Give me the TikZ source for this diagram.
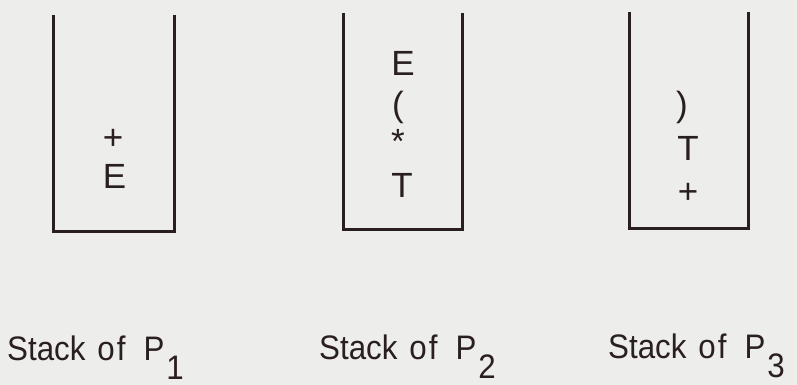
\documentclass[tikz,border=0pt]{standalone}
\usepackage{fontspec}
\setmainfont{Liberation Sans}
\newfontfamily\lblfont[FakeStretch=0.92]{Liberation Sans}
\definecolor{bg}{HTML}{EDEDEB}
\definecolor{ink}{HTML}{2A1F1F}
\newcommand{\stacklabel}[1]{Stack\hspace{12pt}o\hspace{2pt}f\hspace{18pt}P\hspace{2pt}\raisebox{-19pt}{#1}}
\begin{document}
\begin{tikzpicture}[x=1pt,y=-1pt,
  wall/.style={draw=ink,line width=3pt,line join=miter},
  sym/.style={text=ink,inner sep=0pt,font=\fontsize{35}{40}\selectfont},
  lbl/.style={text=ink,inner sep=0pt,anchor=base west,font=\lblfont\fontsize{34}{40}\selectfont}]
\fill[bg] (0,0) rectangle (797,385);
\useasboundingbox (0,0) rectangle (797,385);
% stack 1
\coordinate (a1) at (53,15); \coordinate (a2) at (53,231);
\coordinate (a3) at (174,231); \coordinate (a4) at (174,15);
\draw[wall] (a1) -- (a2) -- (a3) -- (a4);
\node[sym] (s1p) at (113,139) {+};
\node[sym] (s1e) at (114.5,176) {E};
% stack 2
\coordinate (b1) at (343,13); \coordinate (b2) at (343,229);
\coordinate (b3) at (462,229); \coordinate (b4) at (462,13);
\draw[wall] (b1) -- (b2) -- (b3) -- (b4);
\node[sym] (s2e) at (403,63) {E};
\node[sym] (s2l) at (398,107) {(};
\node[sym] (s2s) at (398,141) {*};
\node[sym] (s2t) at (402,185) {T};
% stack 3
\coordinate (c1) at (629,12); \coordinate (c2) at (629,228);
\coordinate (c3) at (748,228); \coordinate (c4) at (748,12);
\draw[wall] (c1) -- (c2) -- (c3) -- (c4);
\node[sym] (s3r) at (682,107) {)};
\node[sym] (s3t) at (688,148) {T};
\node[sym] (s3p) at (688,193) {+};
% labels
\node[lbl] (l1) at (7,360) {\stacklabel{1}};
\node[lbl] (l2) at (319,359) {\stacklabel{2}};
\node[lbl] (l3) at (608,358) {\stacklabel{3}};
\end{tikzpicture}
\end{document}
